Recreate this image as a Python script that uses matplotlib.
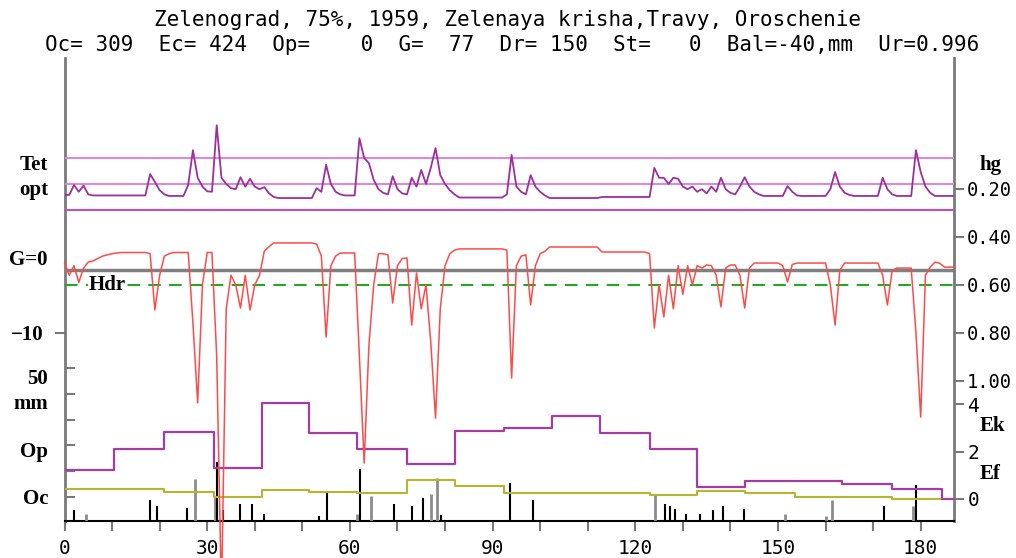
import matplotlib
matplotlib.use("Agg")
import matplotlib.pyplot as plt

plt.rcParams["font.family"] = ["DejaVu Sans Mono"]

# daily series, day 0 .. 187
days = list(range(188))

tet = [
    0.329, 0.329, 0.348, 0.335, 0.347, 0.330, 0.328, 0.328, 0.328, 0.328,
    0.328, 0.328, 0.328, 0.328, 0.328, 0.328, 0.328, 0.328, 0.369, 0.354,
    0.338, 0.330, 0.327, 0.327, 0.327, 0.327, 0.348, 0.415, 0.362, 0.345,
    0.336, 0.335, 0.463, 0.362, 0.350, 0.342, 0.340, 0.363, 0.345, 0.360,
    0.345, 0.340, 0.344, 0.332, 0.325, 0.323, 0.323, 0.323, 0.323, 0.323,
    0.323, 0.323, 0.323, 0.342, 0.335, 0.387, 0.350, 0.335, 0.330, 0.328,
    0.328, 0.328, 0.438, 0.400, 0.390, 0.358, 0.340, 0.333, 0.330, 0.365,
    0.340, 0.332, 0.330, 0.362, 0.345, 0.377, 0.350, 0.381, 0.419, 0.367,
    0.350, 0.338, 0.330, 0.324, 0.324, 0.324, 0.324, 0.324, 0.324, 0.324,
    0.324, 0.324, 0.324, 0.330, 0.406, 0.345, 0.335, 0.330, 0.367, 0.345,
    0.335, 0.328, 0.323, 0.323, 0.323, 0.323, 0.323, 0.323, 0.323, 0.323,
    0.323, 0.323, 0.323, 0.325, 0.325, 0.325, 0.325, 0.325, 0.325, 0.325,
    0.325, 0.325, 0.325, 0.325, 0.381, 0.362, 0.362, 0.350, 0.362, 0.360,
    0.345, 0.340, 0.345, 0.335, 0.340, 0.332, 0.345, 0.335, 0.362, 0.340,
    0.333, 0.330, 0.345, 0.363, 0.345, 0.335, 0.330, 0.327, 0.327, 0.327,
    0.327, 0.327, 0.346, 0.335, 0.328, 0.327, 0.327, 0.327, 0.327, 0.327,
    0.327, 0.340, 0.373, 0.345, 0.333, 0.329, 0.327, 0.327, 0.327, 0.327,
    0.327, 0.327, 0.362, 0.340, 0.330, 0.327, 0.327, 0.327, 0.327, 0.415,
    0.373, 0.345, 0.333, 0.327, 0.327, 0.327, 0.327, 0.327,
]

hg = [
    0.509, 0.560, 0.520, 0.590, 0.530, 0.505, 0.500, 0.490, 0.480, 0.475,
    0.470, 0.467, 0.465, 0.465, 0.465, 0.465, 0.465, 0.465, 0.470, 0.705,
    0.560, 0.480, 0.470, 0.465, 0.465, 0.465, 0.465, 0.760, 1.093, 0.600,
    0.465, 0.465, 0.900, 1.900, 0.700, 0.560, 0.600, 0.697, 0.560, 0.705,
    0.600, 0.560, 0.460, 0.440, 0.425, 0.425, 0.425, 0.425, 0.425, 0.425,
    0.425, 0.425, 0.425, 0.430, 0.480, 0.818, 0.520, 0.480, 0.467, 0.467,
    0.467, 0.467, 0.900, 1.344, 0.851, 0.600, 0.470, 0.470, 0.475, 0.676,
    0.520, 0.490, 0.488, 0.768, 0.550, 0.700, 0.600, 0.839, 1.156, 0.700,
    0.520, 0.470, 0.455, 0.450, 0.450, 0.450, 0.450, 0.450, 0.450, 0.450,
    0.450, 0.450, 0.450, 0.455, 0.989, 0.520, 0.480, 0.475, 0.684, 0.520,
    0.470, 0.460, 0.442, 0.442, 0.442, 0.442, 0.442, 0.442, 0.442, 0.442,
    0.442, 0.442, 0.442, 0.463, 0.463, 0.463, 0.463, 0.463, 0.463, 0.463,
    0.463, 0.463, 0.463, 0.470, 0.780, 0.600, 0.734, 0.560, 0.700, 0.520,
    0.640, 0.520, 0.600, 0.520, 0.530, 0.517, 0.520, 0.560, 0.692, 0.530,
    0.517, 0.517, 0.560, 0.697, 0.530, 0.509, 0.509, 0.509, 0.509, 0.509,
    0.509, 0.520, 0.588, 0.515, 0.509, 0.509, 0.509, 0.509, 0.509, 0.509,
    0.509, 0.600, 0.768, 0.540, 0.509, 0.509, 0.509, 0.509, 0.509, 0.509,
    0.509, 0.509, 0.560, 0.684, 0.540, 0.530, 0.530, 0.530, 0.530, 0.800,
    1.152, 0.560, 0.526, 0.505, 0.510, 0.526, 0.526, 0.526,
]

tet_lines = [0.40, 0.35, 0.30]
hdr = 0.60
g_zero = 0.0

# 10-day periods
dekad_edges = [0, 10.5, 21, 31.5, 41.5, 51.5, 61.5, 72, 82, 92.5, 102.5,
               112.5, 123, 133, 143, 153.5, 163.5, 174, 184.5, 187]
ek = [1.22, 2.10, 2.81, 1.30, 4.04, 2.78, 2.10, 1.47, 2.88, 2.98, 3.49,
      2.79, 2.09, 0.52, 0.77, 0.77, 0.62, 0.42, 0.00]
ef = [0.42, 0.42, 0.28, 0.10, 0.38, 0.28, 0.24, 0.80, 0.55, 0.27, 0.27,
      0.27, 0.17, 0.34, 0.24, 0.10, 0.10, 0.00]

rain_days = [2, 18, 19.4, 25.8, 32, 33.3, 37, 39.4, 42, 53.4, 55.2, 62.2,
             69.2, 73, 75.3, 79.2, 93.7, 98.4, 126.3, 127.3, 128.4, 130.7,
             133.5, 136.3, 138.4, 142.8, 172.2, 179.1]
rain_mm = [4.3, 8.1, 5.8, 4.9, 22.8, 4.3, 6.7, 6.5, 2.6, 1.9, 11.0, 20.0,
           6.5, 5.8, 8.8, 2.2, 14.6, 8.1, 6.5, 5.8, 4.8, 2.6, 2.6, 4.3,
           5.8, 4.8, 5.8, 13.8]
irr_days = [4.5, 27.4, 31.7, 61.5, 64.4, 77.1, 78.4, 124.2, 151.4, 160,
            161.4, 178.3]
irr_mm = [2.6, 16.2, 9.7, 2.6, 9.7, 10.6, 16.8, 10.0, 2.6, 1.9, 8.1, 5.8]

x_ticks = list(range(0, 188, 10))
x_labels = [str(d) if d % 30 == 0 else "" for d in x_ticks]

title1 = "Zelenograd, 75%, 1959, Zelenaya krisha,Travy, Oroschenie"
title2 = "Oc= 309  Ec= 424  Op=    0  G=  77  Dr= 150  St=   0  Bal=-40,mm  Ur=0.996"

# ---- layout (pixels of the 1016x558 picture)
W, H = 1016, 558
L, R, B, T = 64.5, 954.0, 521.0, 58.0
XMAX = 187


def lims(p1, v1, p2, v2):
    # value range that puts v1 at pixel row p1 and v2 at p2
    k = (v2 - v1) / (p2 - p1)
    return v1 + (B - p1) * k, v1 + (T - p1) * k


fig = plt.figure(figsize=(W / 100, H / 100), dpi=100)
rect = [L / W, 1 - B / H, (R - L) / W, (B - T) / H]


def layer():
    a = fig.add_axes(rect)
    a.set_facecolor("none")
    a.set_xlim(0, XMAX)
    for s in a.spines.values():
        s.set_visible(False)
    a.set_xticks([])
    a.set_yticks([])
    return a


def ftext(x, y, s, **kw):
    fig.text(x / W, 1 - y / H, s, va="center", **kw)


serif = dict(family="Liberation Serif", weight="bold", fontsize=15)
axc = "#7a7a7a"

# main frame, mm scale on the left
ax = fig.add_axes(rect)
ax.set_facecolor("white")
ax.set_xlim(0, XMAX)
ax.set_ylim(*lims(497, 0, 368, 50))
ax.spines["top"].set_visible(False)
ax.spines["left"].set_color(axc)
ax.spines["right"].set_color(axc)
ax.spines["left"].set_linewidth(2)
ax.spines["right"].set_linewidth(2)
ax.spines["bottom"].set_color("black")
ax.spines["bottom"].set_linewidth(1.5)
ax.set_xticks(x_ticks)
ax.set_xticklabels(x_labels)
ax.tick_params(axis="x", direction="out", length=7, width=1.5, color=axc,
               labelsize=14, pad=6)
ax.set_yticks([0, 10, 20, 30, 40, 50])
ax.set_yticklabels([])
ax.tick_params(axis="y", direction="in", length=7, width=1.5, color=axc)

# precipitation bars
axb = layer()
axb.set_ylim(*lims(B, 0, B - 25.8, 10))
axb.vlines(irr_days, 0, irr_mm, color="#8c8c8c", lw=2)
axb.vlines(rain_days, 0, rain_mm, color="black", lw=1.5)

# G scale
axg = layer()
axg.set_ylim(*lims(270, 0, 333, -10))
axg.axhline(g_zero, color="#808080", lw=2.5)
axg.set_yticks([-10])
axg.set_yticklabels(["\u221210"], **serif)
axg.tick_params(axis="y", direction="out", length=7, width=1.5, color=axc, pad=8)

# Ek / Ef
axe = layer()
axe.set_ylim(*lims(499, 0, 404, 4))
axe.step(dekad_edges[:len(ef) + 1], ef + [ef[-1]], where="post",
         color="#b5b530", lw=1.5)
axe.step(dekad_edges, ek + [ek[-1]], where="post", color="#a33ca3", lw=1.6)
axe.yaxis.tick_right()
axe.set_yticks([0, 2, 4])
axe.set_yticklabels(["0", "2", "4"])
axe.tick_params(axis="y", direction="out", length=7, width=1.5, color=axc,
                labelsize=14, pad=3)

# soil moisture
axt = layer()
axt.set_ylim(*lims(158, 0.40, 210, 0.30))
axt.axhline(tet_lines[0], color="#d98ad9", lw=1.5)
axt.axhline(tet_lines[1], color="#d98ad9", lw=1.5)
axt.axhline(tet_lines[2], color="#c050c0", lw=1.5)
axt.plot(days, tet, color="#9c2f9c", lw=1.3)

# ground water depth
axh = layer()
axh.set_ylim(*lims(189, 0.2, 380.7, 1.0))
axh.axhline(hdr, color="#22aa22", lw=1.5, dashes=(6, 4))
axh.plot(days, hg, color="#ff4a4a", lw=1.1, clip_on=False)
axh.text(9.0, hdr, "Hdr", ha="center", va="center", zorder=5,
         bbox=dict(facecolor="white", edgecolor="none", pad=0.5), **serif)
axh.yaxis.tick_right()
axh.set_yticks([0.2, 0.4, 0.6, 0.8, 1.0])
axh.set_yticklabels(["0.20", "0.40", "0.60", "0.80", "1.00"])
axh.tick_params(axis="y", direction="out", length=7, width=1.5, color=axc,
                labelsize=13.5, pad=2)

# titles and labels
fig.text(0.5, 1 - 20 / H, title1, ha="center", va="center", fontsize=15)
fig.text(512 / W, 1 - 45 / H, title2, ha="center", va="center", fontsize=15)

ftext(48, 165, "Tet", ha="right", **serif)
ftext(48, 190, "opt", ha="right", **serif)
ftext(48, 260, "G=0", ha="right", **serif)
ftext(48, 379, "50", ha="right", **serif)
ftext(48, 404, "mm", ha="right", **serif)
ftext(48, 452, "Op", ha="right", **serif)
ftext(48, 499, "Oc", ha="right", **serif)
ftext(979, 165, "hg", ha="left", **serif)
ftext(980, 426, "Ek", ha="left", **serif)
ftext(980, 474, "Ef", ha="left", **serif)

fig.savefig("out.png", dpi=100)
